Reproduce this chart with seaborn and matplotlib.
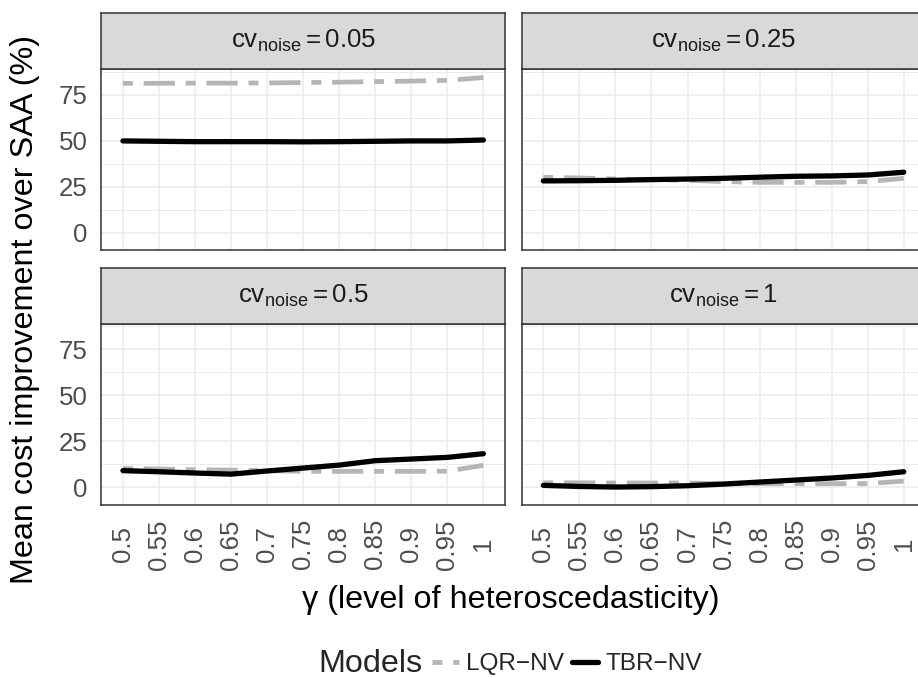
import matplotlib
matplotlib.use("Agg")
import matplotlib.pyplot as plt
import seaborn as sns
import pandas as pd
from matplotlib.lines import Line2D

# ---------------- data ----------------
gamma = [0.5, 0.55, 0.6, 0.65, 0.7, 0.75, 0.8, 0.85, 0.9, 0.95, 1.0]
gamma_labels = ["0.5", "0.55", "0.6", "0.65", "0.7", "0.75", "0.8", "0.85", "0.9", "0.95", "1"]
panels = ["0.05", "0.25", "0.5", "1"]
models = ["LQR\u2212NV", "TBR\u2212NV"]

lqr_005 = [81.3, 81.3, 81.4, 81.4, 81.5, 81.7, 81.9, 82.2, 82.5, 82.9, 84.4]
tbr_005 = [50.0, 49.8, 49.6, 49.6, 49.6, 49.5, 49.6, 49.8, 50.0, 50.0, 50.5]
lqr_025 = [30.3, 29.9, 29.3, 28.9, 28.6, 27.9, 27.5, 27.5, 27.5, 27.9, 29.7]
tbr_025 = [28.3, 28.4, 28.6, 29.0, 29.3, 29.7, 30.3, 30.8, 31.0, 31.5, 33.0]
lqr_05 = [10.3, 10.0, 9.6, 9.4, 9.1, 8.7, 8.7, 8.7, 8.7, 8.8, 12.0]
tbr_05 = [9.1, 8.5, 7.8, 7.2, 8.9, 10.5, 12.1, 14.5, 15.4, 16.3, 18.3]
lqr_1 = [2.5, 2.5, 2.4, 2.4, 2.4, 2.0, 2.0, 2.0, 2.0, 2.1, 3.4]
tbr_1 = [1.1, 0.5, 0.2, 0.4, 0.9, 1.8, 2.9, 4.0, 5.1, 6.5, 8.5]

series = {
    "0.05": (lqr_005, tbr_005),
    "0.25": (lqr_025, tbr_025),
    "0.5": (lqr_05, tbr_05),
    "1": (lqr_1, tbr_1),
}

rows = []
for p in panels:
    for m, vals in zip(models, series[p]):
        for g, v in zip(gamma, vals):
            rows.append({"cv": p, "gamma": g, "Model": m, "value": v})
df = pd.DataFrame(rows)

# ---------------- style ----------------
sns.set_style("white")
plt.rcParams["font.family"] = ["Liberation Sans", "DejaVu Sans"]
plt.rcParams["mathtext.fontset"] = "custom"
plt.rcParams["mathtext.rm"] = "Liberation Sans"
plt.rcParams["mathtext.it"] = "Liberation Sans:italic"
plt.rcParams["mathtext.bf"] = "Liberation Sans:bold"

W, H = 918, 678
fig = plt.figure(figsize=(W / 100, H / 100), dpi=100)

TITLE = 23.3
SMALL = 18.6

grey = "#B5B5B5"
palette = {models[0]: grey, models[1]: "black"}
dash_pat = (2.1, 2.3, 6.6, 2.3)
dashes = {models[0]: dash_pat, models[1]: ""}
sizes = {models[0]: 3.4, models[1]: 3.8}

border = "#333333"
panel_w = 403.7
panel_h = 181.0
lefts = [101.3, 521.7]
tops = [69.3, 323.7]
strip_h = 56.0

def fx(px):
    return px / W

def fy(py):
    return 1 - py / H

for i, p in enumerate(panels):
    r, c = divmod(i, 2)
    x0, y0 = lefts[c], tops[r]
    ax = fig.add_axes([fx(x0), fy(y0 + panel_h), panel_w / W, panel_h / H])
    sub = df[df["cv"] == p]
    sns.lineplot(data=sub, x="gamma", y="value", hue="Model", style="Model",
                 size="Model", hue_order=models, style_order=models, size_order=models,
                 palette=palette, dashes=dashes, sizes=sizes, legend=False, ax=ax)
    ax.set_xlim(0.47, 1.03)
    ax.set_ylim(-9.4, 88.9)
    ax.set_yticks([0, 25, 50, 75])
    ax.set_yticks([12.5, 37.5, 62.5, 87.5], minor=True)
    ax.set_xticks(gamma)
    ax.set_xticklabels(gamma_labels, rotation=90, va="center", ha="center")
    ax.set_xlabel("")
    ax.set_ylabel("")
    ax.set_axisbelow(True)
    ax.grid(which="major", color="#EBEBEB", lw=1.1)
    ax.grid(which="minor", axis="y", color="#EBEBEB", lw=0.7)
    ax.set_facecolor("white")
    for s in ax.spines.values():
        s.set_visible(True)
        s.set_color(border)
        s.set_linewidth(1.1)
    ax.tick_params(which="minor", length=0)
    ax.tick_params(axis="both", which="major", length=5, width=1.1, color=border,
                   labelsize=SMALL, labelcolor="#4D4D4D")
    ax.tick_params(axis="y", pad=5.0)
    ax.tick_params(axis="x", pad=23.5)
    if r == 0:
        ax.tick_params(axis="x", length=0, labelbottom=False)
    if c == 1:
        ax.tick_params(axis="y", length=0, labelleft=False)

    sax = fig.add_axes([fx(x0), fy(y0), panel_w / W, strip_h / H])
    sax.set_facecolor("#D9D9D9")
    sax.set_xticks([])
    sax.set_yticks([])
    for s in sax.spines.values():
        s.set_visible(True)
        s.set_color(border)
        s.set_linewidth(1.1)
    label = r"$\mathrm{cv}_{\mathrm{noise}} = \mathrm{" + p + "}$"
    sax.text(0.5, 0.5, label, transform=sax.transAxes, ha="center", va="center",
             fontsize=SMALL, color="#1A1A1A")

fig.text(fx(25), fy(310), "Mean cost improvement over SAA (%)", rotation=90,
         ha="center", va="center", fontsize=TITLE, color="black")
fig.text(fx(511), fy(600), "\u03b3 (level of heteroscedasticity)",
         ha="center", va="center", fontsize=TITLE, color="black")

fig.text(fx(318), fy(664), "Models", ha="left", va="center", fontsize=TITLE)
handles = [
    Line2D([], [], color=grey, lw=3.4, dashes=dash_pat),
    Line2D([], [], color="black", lw=3.8),
]
fig.legend(handles, models, loc="center left", bbox_to_anchor=(fx(432), fy(664)),
           ncol=2, frameon=False, fontsize=17.6, handlelength=1.1,
           handletextpad=0.3, columnspacing=0.3, borderpad=0, borderaxespad=0)

fig.savefig("out.png", dpi=100)
